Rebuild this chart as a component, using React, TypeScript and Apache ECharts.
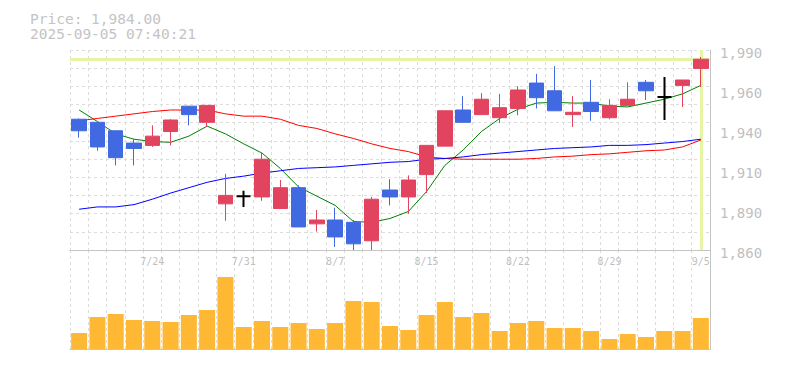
import React, { useEffect, useRef } from 'react';
import * as echarts from 'echarts';

const dates = ['7/17','7/18','7/22','7/23','7/24','7/25','7/28','7/29','7/30','7/31','8/1','8/4','8/5','8/6','8/7','8/8','8/12','8/13','8/14','8/15','8/18','8/19','8/20','8/21','8/22','8/25','8/26','8/27','8/28','8/29','9/1','9/2','9/3','9/4','9/5'];

const opens = [1945, 1943, 1937.5, 1929.5, 1928, 1937, 1953.5, 1943, 1890, 1895, 1894.5, 1887, 1900.5, 1877, 1879.5, 1878, 1866, 1899, 1894.5, 1909, 1927.5, 1951, 1948, 1946, 1952, 1968.5, 1963.5, 1948, 1956, 1946, 1954, 1969, 1959.5, 1967, 1978];
const closes = [1937.5, 1927, 1920, 1926, 1934, 1944.5, 1948, 1954, 1895.5, 1895, 1919, 1900.5, 1875, 1879.5, 1868.5, 1864, 1893, 1894.5, 1905.5, 1928, 1950.5, 1943, 1958, 1952.5, 1964, 1959, 1950.5, 1949.5, 1950, 1954, 1958, 1963.5, 1959.5, 1970.5, 1984];
const lows = [1933, 1924.5, 1915, 1915, 1927, 1928, 1941, 1940, 1879, 1888, 1892, 1887, 1875, 1872, 1862, 1860, 1860, 1889, 1883.5, 1897, 1927.5, 1943, 1948, 1942.5, 1947.5, 1952, 1950.5, 1940, 1944, 1945, 1954, 1957.5, 1944.5, 1953, 1966];
const highs = [1945.5, 1943.5, 1937.5, 1932, 1941, 1945, 1953.5, 1954, 1909.5, 1898.5, 1923, 1905.5, 1902, 1886, 1887.5, 1879.5, 1894.5, 1906, 1908.5, 1928, 1950.5, 1960, 1962, 1961.5, 1966.5, 1974.5, 1979.5, 1960, 1970.5, 1958, 1969, 1970.5, 1972.5, 1970.5, 1985.5];

const ma5 = [1951, 1943.5, 1935.5, 1932, 1930.5, 1930, 1934, 1940.5, 1935.5, 1929, 1923, 1913, 1901, 1895, 1889, 1878.5, 1878, 1880.5, 1885, 1898, 1915, 1925, 1937, 1945.5, 1951.5, 1955.5, 1956, 1955.5, 1955.5, 1953.5, 1953, 1955.5, 1958, 1961.5, 1967];
const ma25 = [1944, 1945.5, 1947, 1948.5, 1950, 1951, 1951, 1951, 1948.5, 1947, 1947, 1945, 1941, 1939, 1935.5, 1932.5, 1929, 1926, 1924, 1920.5, 1919.5, 1919, 1919, 1919, 1919, 1919.5, 1920.5, 1921, 1922, 1922.5, 1923.5, 1924.5, 1925, 1927, 1931.5];
const ma75 = [1886.5, 1888, 1888, 1889.5, 1893, 1897, 1900.5, 1904, 1906.5, 1908, 1910, 1911.5, 1913, 1913.5, 1914, 1915, 1916, 1917, 1917.5, 1919, 1919.5, 1920.5, 1922, 1923, 1924, 1925, 1926, 1926.5, 1927, 1928, 1928, 1928.5, 1929.5, 1930.5, 1932];

const volumes = [16, 32, 35, 29, 28, 27, 34, 39, 72, 22, 28, 22, 26, 20, 26, 48, 47, 23, 19, 34, 47, 32, 36, 18, 26, 28, 21, 21, 18, 10, 15, 12, 18, 18, 31];

const yTickValues = [1860, 1886, 1912, 1938, 1964, 1990];
const yTickLabels = ['1,860', '1,890', '1,910', '1,940', '1,960', '1,990'];

const currentPrice = 1984;
const titleLines = ['Price: 1,984.00', '2025-09-05 07:40:21'];

const MONO = 'DejaVu Sans Mono, monospace';
const TEXT = '#bfbfbf';
const AXIS = '#c4c4c4';
const GRID = '#dddddd';
const UP = '#e2435f';
const DOWN = '#4169e1';

export default function App() {
  const ref = useRef<HTMLDivElement>(null);
  useEffect(() => {
    if (!ref.current) return;
    const chart = echarts.init(ref.current, null, { renderer: 'svg' });
    const candleData = dates.map((_, i) => {
      const v = [opens[i], closes[i], lows[i], highs[i]];
      if (opens[i] === closes[i]) {
        return {
          value: v,
          itemStyle: { color: '#000', color0: '#000', borderColor: '#000', borderColor0: '#000', borderColorDoji: '#000', borderWidth: 2 },
        };
      }
      return { value: v };
    });
    const dashed = { color: GRID, type: [3, 3] as any, width: 1 };
    chart.setOption({
      animation: false,
      title: {
        text: titleLines.join('\n'),
        left: 30,
        top: 11,
        padding: 0,
        textStyle: { fontFamily: MONO, fontSize: 14.5, fontWeight: 'normal', color: '#c4c4c4', lineHeight: 15 },
      },
      grid: [
        { left: 70, top: 50, width: 640, height: 200 },
        { left: 70, top: 250, width: 640, height: 99 },
      ],
      xAxis: [
        {
          type: 'category', gridIndex: 0, data: dates, boundaryGap: true,
          axisLine: { show: true, onZero: false, lineStyle: { color: AXIS } },
          axisTick: { show: false }, axisLabel: { show: false },
          splitLine: { show: true, interval: 0, lineStyle: dashed },
        },
        {
          type: 'category', gridIndex: 1, data: dates, boundaryGap: true, position: 'top',
          axisLine: { show: true, onZero: false, lineStyle: { color: AXIS } },
          axisTick: { show: false },
          axisLabel: {
            show: true, inside: true, interval: (i: number) => i % 5 === 4, margin: 6,
            fontFamily: MONO, fontSize: 10, color: TEXT,
          },
          splitLine: { show: true, interval: 0, lineStyle: dashed },
        },
        {
          type: 'category', gridIndex: 1, data: dates, boundaryGap: true, position: 'bottom',
          axisLine: { show: true, onZero: false, lineStyle: { color: AXIS } },
          axisTick: { show: false }, axisLabel: { show: false }, splitLine: { show: false },
        },
      ],
      yAxis: [
        {
          type: 'value', gridIndex: 0, position: 'right', min: 1860, max: 1990,
          axisLine: { show: true, onZero: false, lineStyle: { color: AXIS } },
          axisTick: { show: false }, splitLine: { show: false },
          axisLabel: {
            customValues: yTickValues,
            formatter: (v: number) => {
              const k = yTickValues.findIndex((t) => Math.abs(t - v) < 0.01);
              return k >= 0 ? yTickLabels[k] : '';
            },
            margin: 10, fontFamily: MONO, fontSize: 14, color: TEXT,
            verticalAlign: 'top', lineHeight: 6,
          },
        },
        {
          type: 'value', gridIndex: 0, position: 'left', min: 0, max: 11, interval: 1,
          axisLine: { show: false }, axisTick: { show: false }, axisLabel: { show: false },
          splitLine: { show: true, lineStyle: dashed },
        },
        {
          type: 'value', gridIndex: 1, position: 'right', min: 0, max: 99,
          axisLine: { show: true, onZero: false, lineStyle: { color: AXIS } },
          axisTick: { show: false }, axisLabel: { show: false }, splitLine: { show: false },
        },
      ],
      series: [
        {
          type: 'line', name: 'MA5', xAxisIndex: 0, yAxisIndex: 0, data: ma5, symbol: 'none', z: 2, silent: true,
          lineStyle: { color: '#008000', width: 1 },
          markLine: {
            z: 1, silent: true, symbol: ['none', 'none'], label: { show: false },
            lineStyle: { color: '#e6f5a5', width: 3, type: 'solid' },
            data: [{ yAxis: currentPrice }, { xAxis: dates[dates.length - 1] }],
          },
        },
        { type: 'line', name: 'MA25', xAxisIndex: 0, yAxisIndex: 0, data: ma25, symbol: 'none', z: 2, silent: true, lineStyle: { color: '#ff0000', width: 1 } },
        { type: 'line', name: 'MA75', xAxisIndex: 0, yAxisIndex: 0, data: ma75, symbol: 'none', z: 2, silent: true, lineStyle: { color: '#0000ff', width: 1 } },
        {
          type: 'candlestick', xAxisIndex: 0, yAxisIndex: 0, data: candleData, barWidth: 15, z: 4,
          itemStyle: { color: UP, color0: DOWN, borderColor: UP, borderColor0: DOWN, borderColorDoji: '#000', borderWidth: 1 },
        },
        {
          type: 'bar', xAxisIndex: 1, yAxisIndex: 2, data: volumes, barWidth: 16,
          itemStyle: { color: '#ffb833' },
        },
      ],
    });
    return () => chart.dispose();
  }, []);
  return <div ref={ref} style={{ position: 'absolute', left: 0, top: 0, width: 785, height: 370 }} />;
}
